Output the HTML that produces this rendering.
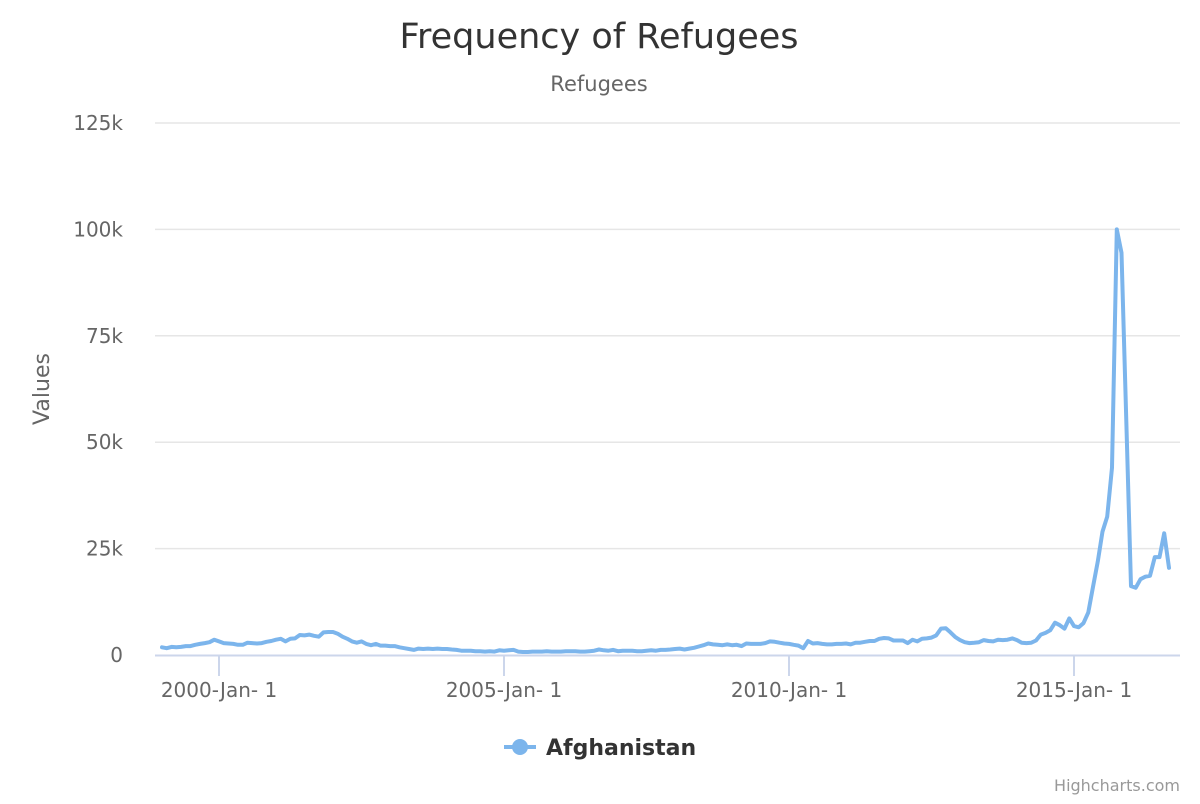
<!DOCTYPE html>
<html><head><meta charset="utf-8"><style>
body{margin:0;background:#fff;font-family:"DejaVu Sans","Liberation Sans",sans-serif}
svg text{font-family:"DejaVu Sans","Liberation Sans",sans-serif}
</style></head><body>
<svg id="chart" width="1200" height="800">
<text x="599" y="48" text-anchor="middle" font-size="35" fill="#333">Frequency of Refugees</text>
<text x="599" y="91" text-anchor="middle" font-size="21" fill="#666">Refugees</text>
<text transform="translate(49,389) rotate(-90)" text-anchor="middle" font-size="22" fill="#666">Values</text>
<g id="grid"></g><g id="xaxis"></g><g id="series"></g>
<g>
<line x1="504" y1="747" x2="536" y2="747" stroke="#7cb5ec" stroke-width="4"/>
<circle cx="520" cy="747" r="8" fill="#7cb5ec"/>
<text x="546" y="755" font-size="22" font-weight="bold" fill="#333">Afghanistan</text>
</g>
<text x="1180" y="791" text-anchor="end" font-size="16" fill="#999">Highcharts.com</text>
</svg>
<script>
const yTicks=[0,25000,50000,75000,100000,125000];
const yTickLabels=["0","25k","50k","75k","100k","125k"];
const xTickYears=[2000,2005,2010,2015];
const xTickLabels=["2000-Jan- 1","2005-Jan- 1","2010-Jan- 1","2015-Jan- 1"];
const startYear=1999;
// monthly values (thousands), Jan 1999 – Sep 2016
const values=[
1.8,1.6,1.9,1.8,1.9,2.1,2.1,2.4,2.6,2.8,3.0,3.6,
3.2,2.8,2.7,2.6,2.4,2.4,2.9,2.8,2.7,2.8,3.1,3.3,
3.6,3.8,3.2,3.8,3.9,4.7,4.6,4.8,4.5,4.3,5.3,5.4,
5.4,5.0,4.3,3.8,3.2,2.9,3.2,2.6,2.3,2.6,2.2,2.2,
2.1,2.1,1.8,1.6,1.4,1.2,1.5,1.4,1.5,1.4,1.5,1.4,
1.4,1.3,1.2,1.0,1.0,1.0,0.9,0.9,0.8,0.9,0.8,1.1,
1.0,1.1,1.2,0.8,0.7,0.7,0.8,0.8,0.8,0.9,0.8,0.8,
0.8,0.9,0.9,0.9,0.8,0.8,0.9,1.0,1.3,1.1,1.0,1.2,
0.9,1.0,1.0,1.0,0.9,0.9,1.0,1.1,1.0,1.2,1.2,1.3,
1.4,1.5,1.3,1.5,1.7,2.0,2.3,2.7,2.5,2.4,2.3,2.5,
2.3,2.4,2.1,2.7,2.6,2.6,2.6,2.8,3.2,3.1,2.9,2.7,
2.6,2.4,2.2,1.6,3.3,2.7,2.8,2.6,2.5,2.5,2.6,2.6,
2.7,2.5,2.9,2.9,3.1,3.3,3.3,3.8,4.0,3.9,3.4,3.4,
3.4,2.8,3.6,3.2,3.8,3.9,4.1,4.6,6.2,6.3,5.3,4.2,
3.5,3.0,2.8,2.9,3.0,3.5,3.3,3.2,3.6,3.5,3.6,3.9,
3.5,2.9,2.8,2.9,3.4,4.8,5.2,5.8,7.6,7.0,6.2,8.6,
6.8,6.5,7.5,10,16,22,29,32.5,44,100,94.5,55,
16.2,15.8,17.8,18.4,18.6,23,23,28.6,20.5
];
const NS="http://www.w3.org/2000/svg";
const xScale=yr=>219+(yr-2000)*57;
const yScale=v=>655-v*(532/125000);
function mk(tag,attrs,parent){const e=document.createElementNS(NS,tag);for(const k in attrs)e.setAttribute(k,attrs[k]);parent.appendChild(e);return e;}
const grid=document.getElementById('grid');
yTicks.forEach((t,i)=>{
  if(i>0){const l=mk('line',{x1:155,x2:1180,y1:yScale(t),y2:yScale(t),stroke:'#e6e6e6','stroke-width':1.5},grid);
  
  }
  const tx=mk('text',{x:123,y:yScale(t)+7,'text-anchor':'end','font-size':20,fill:'#666'},grid);
  tx.textContent=yTickLabels[i];
  
  
});
const xa=document.getElementById('xaxis');
const al=mk('line',{x1:155,x2:1180,y1:655.5,y2:655.5,stroke:'#ccd6eb','stroke-width':2},xa);


xTickYears.forEach((y,i)=>{
  const x=xScale(y);
  const tk=mk('line',{x1:x,x2:x,y1:656,y2:676,stroke:'#ccd6eb','stroke-width':2},xa);
  
  
  const tx=mk('text',{x:x,y:697,'text-anchor':'middle','font-size':20,fill:'#666'},xa);
  tx.textContent=xTickLabels[i];
  
  
});
const pts=values.map((v,i)=>xScale(startYear+i/12).toFixed(1)+','+yScale(v*1000).toFixed(1)).join(' ');
const pl=mk('polyline',{points:pts,fill:'none',stroke:'#7cb5ec','stroke-width':4,'stroke-linejoin':'round','stroke-linecap':'round'},document.getElementById('series'));


</script>
</body></html>
